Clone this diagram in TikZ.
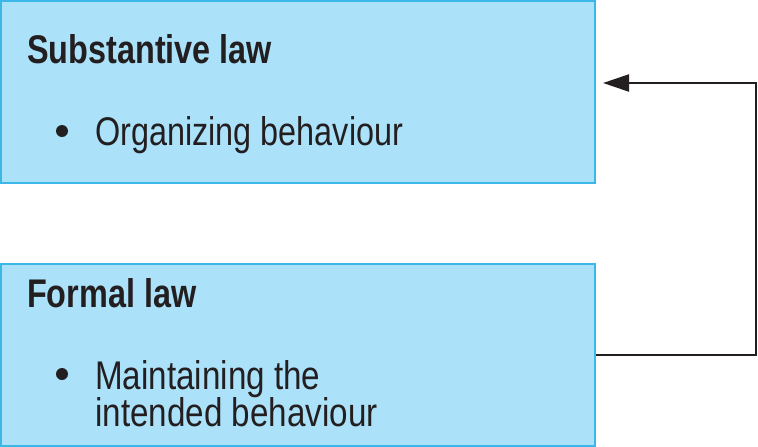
\documentclass[tikz,border=0pt]{standalone}
\usepackage{fontspec}
\setmainfont{Liberation Sans}[FakeStretch=0.81]
\usetikzlibrary{arrows.meta}
\definecolor{boxfill}{HTML}{ABE1F9}
\definecolor{boxline}{HTML}{3BB8E8}
\definecolor{ink}{HTML}{231F20}
\begin{document}
\begin{tikzpicture}[x=1pt,y=-1pt,
  lawbox/.style={draw=boxline,fill=boxfill,line width=2pt,minimum width=594pt,minimum height=182pt,inner sep=0pt},
  heading/.style={anchor=base west,inner sep=0pt,font=\fontsize{40}{39}\selectfont\bfseries,text=ink},
  item/.style={anchor=base west,inner sep=0pt,font=\fontsize{40}{39}\selectfont,text=ink},
  bul/.style={circle,fill=ink,inner sep=0pt,minimum size=12pt},
  link/.style={draw=ink,line width=2.2pt,-{Triangle[length=26pt,width=17pt]}}]
\useasboundingbox (0,0) rectangle (758,447);
\node[lawbox] (subst) at (298,92) {};
\node[lawbox] (formal) at (298,355) {};
\node[heading] (h1) at (27,63) {Substantive law};
\node[bul] (b1) at (62,131) {};
\node[item] (t1) at (95,145) {Organizing behaviour};
\node[heading] (h2) at (27,307) {Formal law};
\node[bul] (b2) at (62,374) {};
\node[item,font=\fontsize{40}{39}\selectfont\addfontfeatures{FakeStretch=0.83}] (t2) at (95,389) {Maintaining the};
\node[item,font=\fontsize{40}{39}\selectfont\addfontfeatures{FakeStretch=0.83}] (t3) at (95,426) {intended behaviour};
\coordinate (c1) at (756,355);
\coordinate (c2) at (756,83);
\draw[link] (formal.east) -- (c1) -- (c2) -- ([xshift=7pt,yshift=9pt]subst.east);
\end{tikzpicture}
\end{document}
